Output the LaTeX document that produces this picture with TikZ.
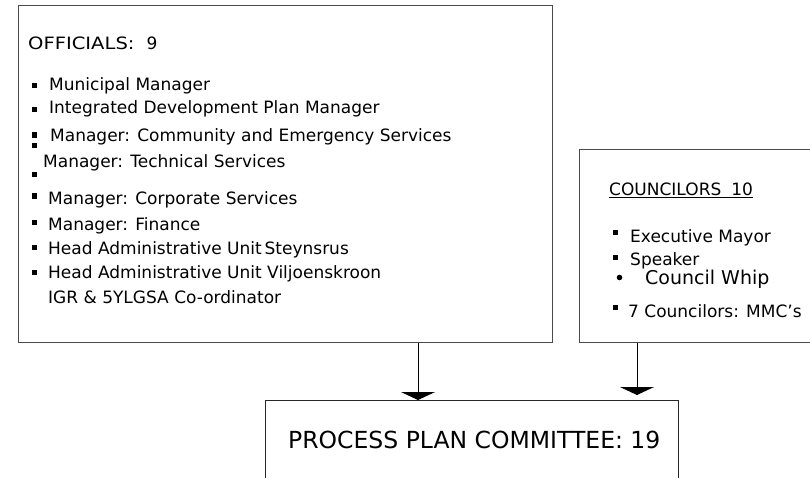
\documentclass[tikz,border=0pt]{standalone}
\usepackage{fontspec}
\setmainfont{DejaVu Sans}
\usetikzlibrary{arrows.meta}
\definecolor{boxgray}{HTML}{4A4A4A}
\tikzset{
  box/.style={draw=boxgray, line width=1.2pt, rectangle, inner sep=0pt, anchor=north west},
  txt/.style={anchor=base west, inner sep=0pt, font=\fontsize{17}{20}\selectfont},
  bigtxt/.style={anchor=base west, inner sep=0pt, font=\fontsize{23.5}{28}\selectfont},
  whiptxt/.style={anchor=base west, inner sep=0pt, font=\fontsize{19}{22}\selectfont},
  arr/.style={draw=black, line width=0.9pt, -{Triangle[width=34pt,length=8pt]}},
}
\newcommand{\sqbul}[2]{\fill (#1-2.6,#2-2.6) rectangle (#1+2.6,#2+2.6);}
\begin{document}
\begin{tikzpicture}[x=1pt,y=-1pt]
\useasboundingbox (0,0) rectangle (810,478);
% boxes
\node[box, minimum width=534pt, minimum height=337pt] (offic) at (18,5) {};
\node[box, minimum width=245pt, minimum height=193pt] (counc) at (579,149) {};
\node[box, draw=black!85, minimum width=413pt, minimum height=100pt] (ppc) at (265,400) {};
% officials text
\node[txt] (ot) at (28,50) {\scalebox{1.15}[1]{OFFICIALS:}\hspace{12pt}9};
\node[txt] (o1) at (49,91) {Municipal Manager};
\node[txt] (o2) at (49,114) {Integrated Development Plan Manager};
\node[txt] (o3) at (50,142) {Manager: Community and Emergency Services};
\node[txt] (o4) at (43,168) {Manager: Technical Services};
\node[txt] (o5) at (48,205) {Manager: Corporate Services};
\node[txt] (o6) at (48,230) {Manager: Finance};
\node[txt] (o7) at (48,254) {Head Administrative Unit\,Steynsrus};
\node[txt] (o8) at (48,278) {Head Administrative Unit Viljoenskroon};
\node[txt] (o9) at (48,303) {IGR \& 5YLGSA Co-ordinator};
\sqbul{34.5}{85.5}
\sqbul{34.5}{109.5}
\sqbul{34.5}{135}
\sqbul{34.5}{145.5}
\sqbul{34.5}{174.5}
\sqbul{34.5}{196}
\sqbul{34.5}{222.5}
\sqbul{34.5}{247.5}
\sqbul{34.5}{272.5}
% councilors text
\node[txt] (ct) at (609,196) {\underline{COUNCILORS\hspace{10pt}10}};
\node[txt] (c1) at (630,242) {Executive Mayor};
\node[txt] (c2) at (630,265) {Speaker};
\node[whiptxt] (c3) at (645,284) {Council Whip};
\node[txt] (c4) at (628,317) {7 Councilors: MMC's};
\sqbul{615.5}{232.5}
\sqbul{615.5}{257.5}
\fill (619.5,277.5) circle (2.8);
\sqbul{615.5}{307.5}
% committee
\node[bigtxt] (pt) at (288,448) {PROCESS PLAN COMMITTEE: 19};
% arrows
\coordinate (a1) at (418,0);
\coordinate (a2) at (637,0);
\draw[arr] (offic.south -| a1) -- (ppc.north -| a1);
\draw[arr, shorten >=5pt] (counc.south -| a2) -- (ppc.north -| a2);
\end{tikzpicture}
\end{document}
